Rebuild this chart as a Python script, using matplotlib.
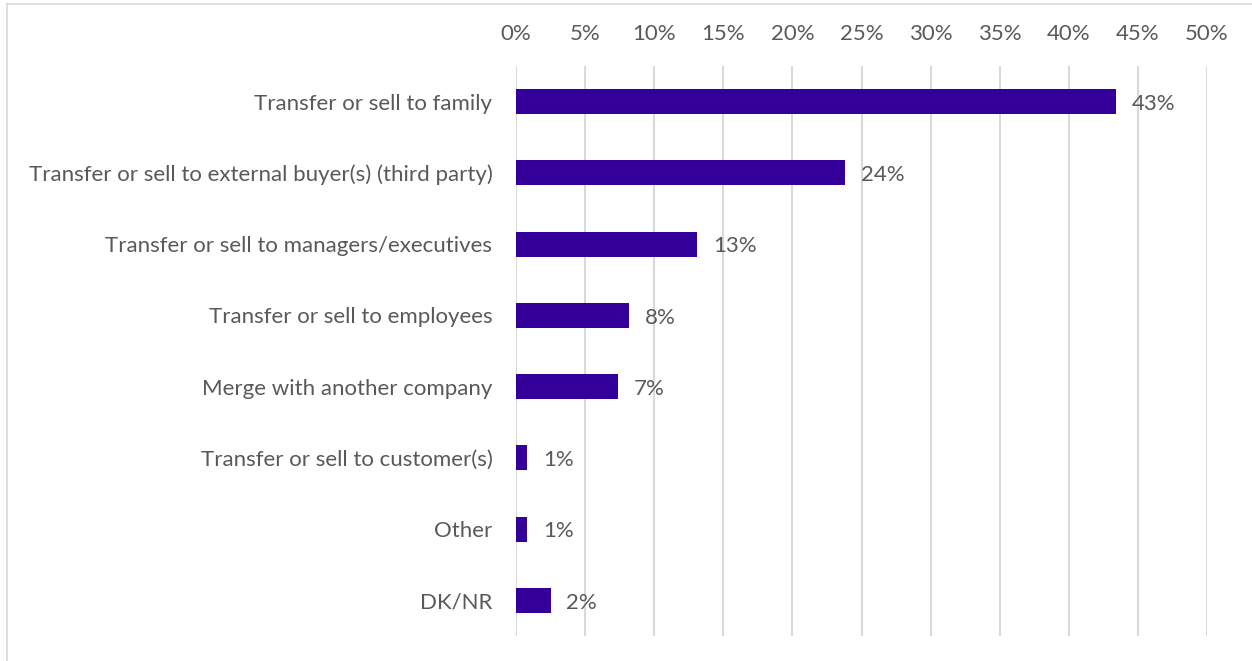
import matplotlib
matplotlib.use("Agg")
import matplotlib.pyplot as plt
from matplotlib.lines import Line2D

categories = [
    "Transfer or sell to family",
    "Transfer or sell to external buyer(s) (third party)",
    "Transfer or sell to managers/executives",
    "Transfer or sell to employees",
    "Merge with another company",
    "Transfer or sell to customer(s)",
    "Other",
    "DK/NR",
]
shares = [43.4, 23.8, 13.1, 8.2, 7.4, 0.8, 0.8, 2.5]
x_ticks = [0, 5, 10, 15, 20, 25, 30, 35, 40, 45, 50]

bar_color = "#330099"
text_color = "#595959"
grid_color = "#D9D9D9"

plt.rcParams["font.family"] = ["Lato", "DejaVu Sans"]
fs = 16

W, H = 1252, 661
fig = plt.figure(figsize=(W / 100, H / 100), dpi=100)
ax = fig.add_axes([516 / W, 1 - 636 / H, (1207 - 516) / W, (636 - 66) / H])

ypos = list(range(len(categories)))
ax.barh(ypos, shares, height=0.35, color=bar_color, zorder=3)
for y, v in zip(ypos, shares):
    ax.text(v + 1.15, y + 0.03, f"{round(v):.0f}%", va="center", ha="left",
            fontsize=fs, color=text_color)

ax.set_xlim(0, 50)
ax.set_ylim(len(categories) - 0.5, -0.5)
ax.set_yticks(ypos)
ax.set_yticklabels(categories, fontsize=fs, color=text_color)
ax.set_xticks(x_ticks)
ax.set_xticklabels([f"{t}%" for t in x_ticks], fontsize=fs, color=text_color)
ax.xaxis.tick_top()
ax.tick_params(axis="x", length=0, pad=16)
ax.tick_params(axis="y", length=0, pad=17)
ax.grid(axis="x", color=grid_color, linewidth=1.5, zorder=0)
ax.set_axisbelow(True)
for s in ax.spines.values():
    s.set_visible(False)

# outer chart frame (top and left edges)
fig.add_artist(Line2D([7 / W, 7 / W], [0, 1 - 4 / H], transform=fig.transFigure,
                      color=grid_color, linewidth=1.2))
fig.add_artist(Line2D([7 / W, 1], [1 - 4 / H, 1 - 4 / H], transform=fig.transFigure,
                      color=grid_color, linewidth=1.2))

fig.savefig("out.png", dpi=100)
